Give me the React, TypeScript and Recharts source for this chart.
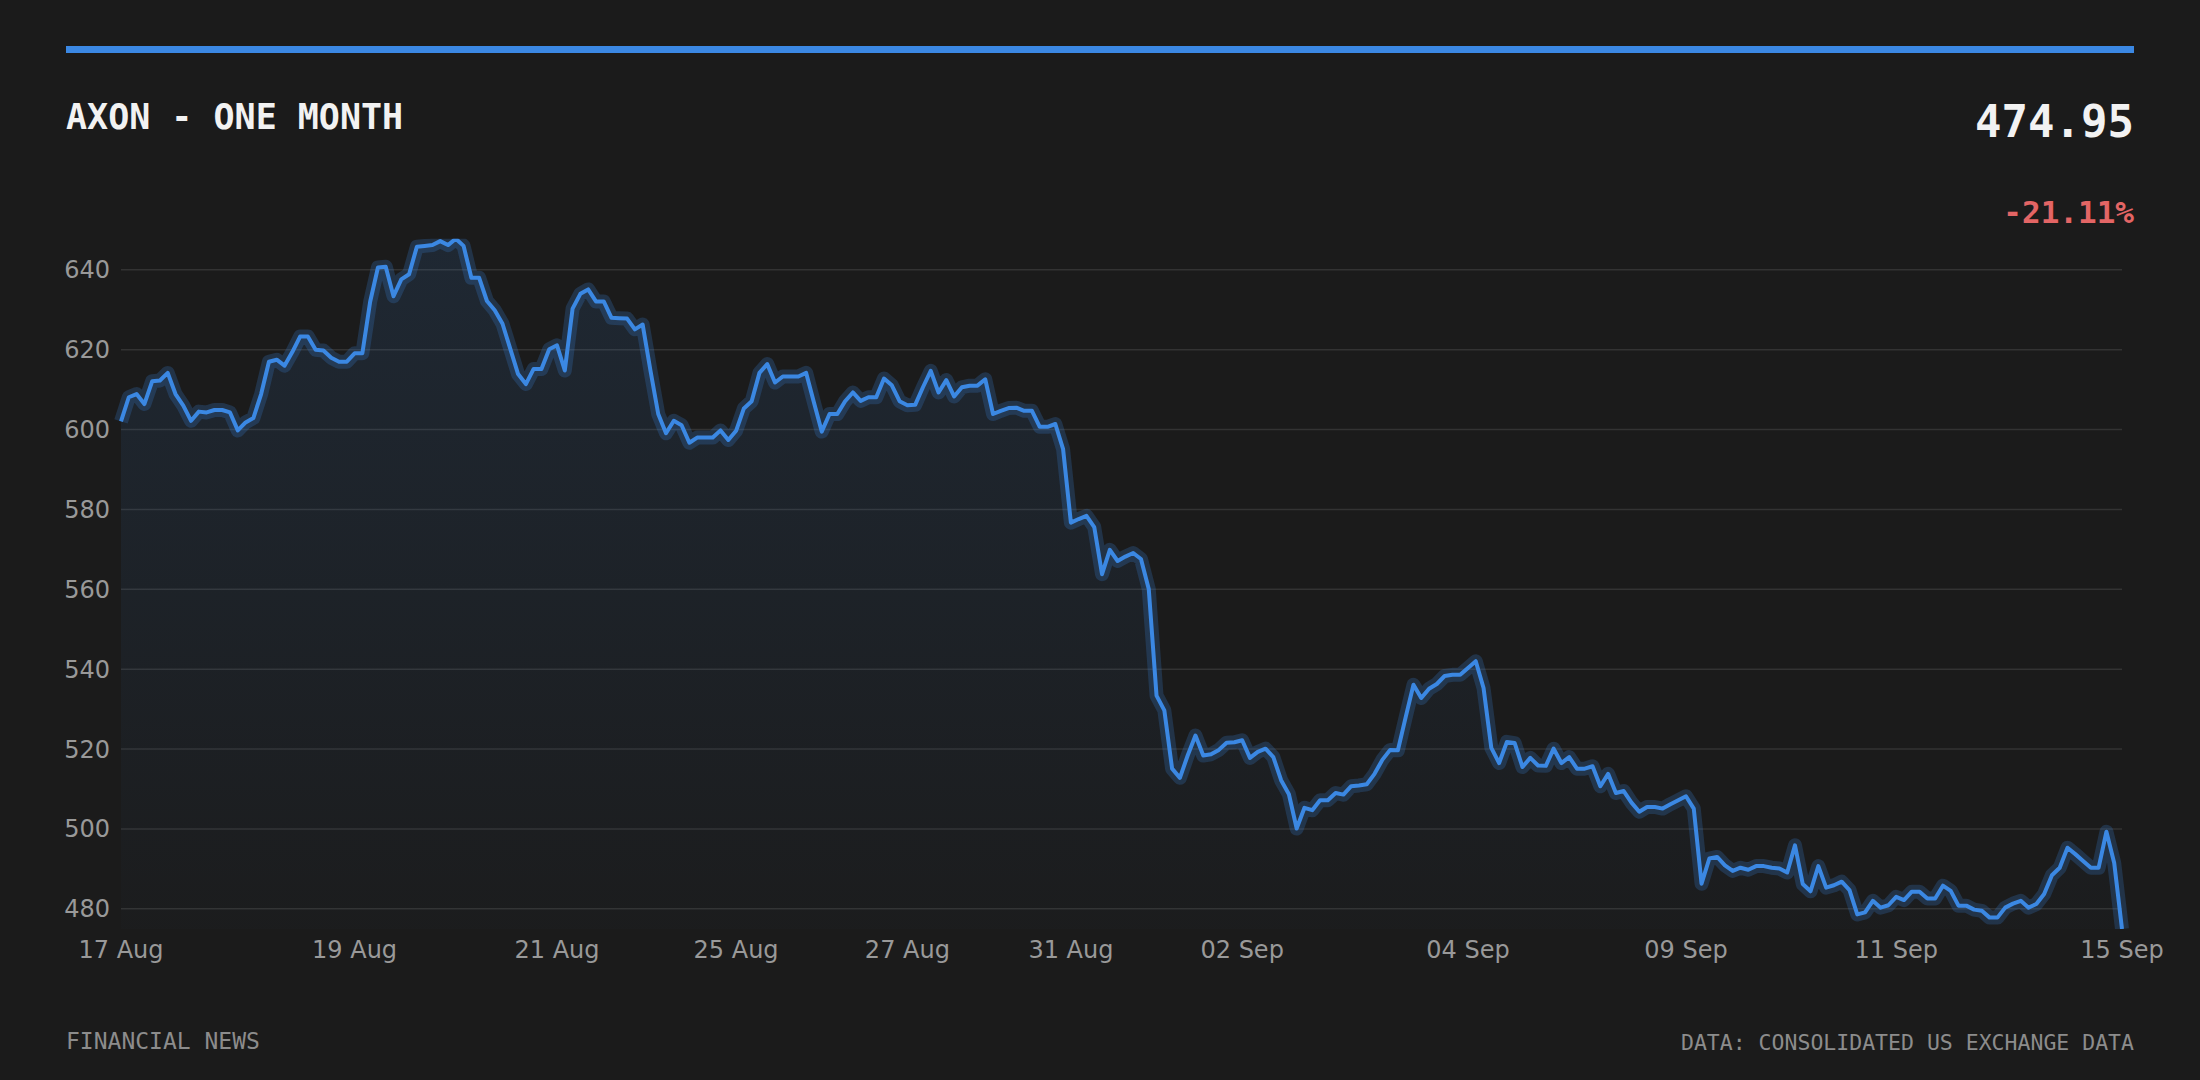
import React from 'react'
import { ComposedChart, Area, Line, XAxis, YAxis, CartesianGrid } from 'recharts'

// hourly closes, left to right
const prices = [
  602.05, 608.1, 608.9, 606.4, 612.1, 612.3, 614.2, 608.9, 606.0, 602.2, 604.5, 604.3, 604.9, 604.9, 604.3,
  599.8, 601.8, 602.9, 608.9, 617.0, 617.5, 616.0, 619.4, 623.3, 623.3, 620.0, 619.8, 618.0, 617.0, 617.0,
  619.1, 619.1, 632.0, 640.6, 640.8, 633.4, 637.6, 638.9, 645.8, 646.0, 646.2, 647.2, 646.2,
  647.8, 646.0, 638.0, 638.0, 632.2, 629.9, 626.5, 620.2, 613.9, 611.4, 615.2, 615.2, 620.1, 621.1, 614.8,
  630.3, 634.0, 635.1, 632.1, 632.1, 628.0, 627.9, 627.8, 625.1, 626.3, 614.8, 603.9, 599.1, 602.2, 601.1,
  596.7, 598.0, 598.0, 598.0, 599.8, 597.4, 599.7, 605.3, 607.1, 614.2, 616.4, 611.8, 613.3,
  613.3, 613.3, 614.2, 606.8, 599.5, 603.9, 603.9, 607.1, 609.3, 607.2, 608.1, 608.1, 612.8, 611.1, 607.1,
  606.1, 606.2, 610.6, 614.7, 609.3, 612.4, 608.3, 610.6, 611.0, 611.0, 612.6, 603.9, 604.7, 605.4, 605.5,
  604.7, 604.7, 600.7, 600.7, 601.4, 595.1, 576.7, 577.6, 578.4, 575.6, 563.8, 569.9, 567.1,
  568.2, 569.1, 567.6, 560.1, 533.4, 529.7, 515.1, 512.8, 518.4, 523.4, 518.4, 518.7, 519.8, 521.6, 521.7,
  522.2, 517.8, 519.3, 520.1, 518.0, 512.2, 508.7, 500.1, 505.3, 504.7, 507.2, 507.2, 509.0, 508.6, 510.7,
  510.9, 511.2, 513.8, 517.3, 519.8, 519.7, 528.0, 536.1, 532.8, 535.1, 536.3, 538.3, 538.6,
  538.6, 540.3, 542.0, 535.3, 520.3, 516.5, 521.8, 521.5, 515.5, 517.8, 515.9, 515.8, 520.1, 516.5, 518.0,
  515.1, 515.1, 515.7, 510.7, 513.8, 509.0, 509.5, 506.6, 504.3, 505.5, 505.5, 505.1, 506.2, 507.2, 508.2,
  505.1, 486.3, 492.6, 493.0, 490.9, 489.5, 490.3, 489.8, 490.7, 490.7, 490.3, 490.1, 489.1,
  495.9, 486.2, 484.4, 490.7, 485.3, 485.9, 486.8, 484.7, 478.6, 479.1, 482.0, 480.3, 480.9, 483.0, 482.2,
  484.3, 484.3, 482.6, 482.6, 485.8, 484.5, 480.8, 480.8, 479.8, 479.5, 477.8, 477.8, 480.3, 481.3, 482.0,
  480.3, 481.2, 483.7, 488.4, 490.3, 495.3, 493.7, 492.0, 490.3, 490.3, 499.3, 491.5, 474.95,
]

const tickIdx = [0, 30, 56, 79, 101, 122, 144, 173, 201, 228, 257]
const tickLabels = ['17 Aug', '19 Aug', '21 Aug', '25 Aug', '27 Aug', '31 Aug', '02 Sep', '04 Sep', '09 Sep', '11 Sep', '15 Sep']
const yTicks = [480, 500, 520, 540, 560, 580, 600, 620, 640]

const BLUE = '#3b88e3'
const BG = '#1b1b1b'
const MONO = '"DejaVu Sans Mono", monospace'
const SANS = '"DejaVu Sans", sans-serif'

const data = prices.map((p, i) => ({ i, p }))

const first = prices[0]
const last = prices[prices.length - 1]
const change = ((last - first) / first) * 100

export default function App() {
  return (
    <div style={{ position: 'absolute', left: 0, top: 0, width: 2200, height: 1080, background: BG, overflow: 'hidden' }}>
      {/* accent bar */}
      <div style={{ position: 'absolute', left: 66, top: 46, width: 2068, height: 7, background: BLUE }} />

      <div style={{ position: 'absolute', left: 66, top: 100, fontFamily: MONO, fontWeight: 'bold', fontSize: 35, lineHeight: 1, color: '#f2f2f2', whiteSpace: 'nowrap' }}>
        AXON - ONE MONTH
      </div>
      <div style={{ position: 'absolute', right: 66, top: 100, fontFamily: MONO, fontWeight: 'bold', fontSize: 44, lineHeight: 1, color: '#f2f2f2', textAlign: 'right' }}>
        {last.toFixed(2)}
      </div>
      <div style={{ position: 'absolute', right: 66, top: 197, fontFamily: MONO, fontWeight: 'bold', fontSize: 31, lineHeight: 1, color: '#e36565', textAlign: 'right' }}>
        {change.toFixed(2)}%
      </div>

      <div style={{ position: 'absolute', left: 0, top: 0 }}>
        <ComposedChart width={2200} height={1080} data={data} margin={{ top: 238.7, right: 78, bottom: 111, left: 61 }}>
          <defs>
            <linearGradient id="fillGrad" x1="0" y1="0" x2="0" y2="1">
              <stop offset="0%" stopColor={BLUE} stopOpacity={0.2} />
              <stop offset="100%" stopColor={BLUE} stopOpacity={0.02} />
            </linearGradient>
          </defs>
          <CartesianGrid vertical={false} horizontalValues={yTicks} stroke="#333333" strokeWidth={1.5} />
          <XAxis
            dataKey="i"
            type="number"
            domain={[0, prices.length - 1]}
            ticks={tickIdx}
            interval={0}
            tickFormatter={(v) => tickLabels[tickIdx.indexOf(v)]}
            axisLine={false}
            tickLine={false}
            tickSize={0}
            tickMargin={12}
            height={40}
            tick={{ fill: '#999999', fontSize: 24, fontFamily: SANS }}
          />
          <YAxis
            domain={['dataMin', 'dataMax']}
            allowDataOverflow
            ticks={yTicks}
            interval={0}
            axisLine={false}
            tickLine={false}
            tickSize={0}
            tickMargin={11}
            width={60}
            tick={{ fill: '#999999', fontSize: 24, fontFamily: SANS }}
          />
          <Area dataKey="p" type="linear" stroke="none" fill="url(#fillGrad)" isAnimationActive={false} />
          <Line dataKey="p" type="linear" stroke={BLUE} strokeOpacity={0.22} strokeWidth={14} strokeLinejoin="round" dot={false} activeDot={false} isAnimationActive={false} />
          <Line dataKey="p" type="linear" stroke={BLUE} strokeWidth={4} strokeLinejoin="round" dot={false} activeDot={false} isAnimationActive={false} />
        </ComposedChart>
      </div>

      <div style={{ position: 'absolute', left: 66, top: 1030, fontFamily: MONO, fontSize: 23, lineHeight: 1, color: '#8c8c8c' }}>
        FINANCIAL NEWS
      </div>
      <div style={{ position: 'absolute', right: 66, top: 1032, fontFamily: MONO, fontSize: 21.5, lineHeight: 1, color: '#8c8c8c', textAlign: 'right' }}>
        DATA: CONSOLIDATED US EXCHANGE DATA
      </div>
    </div>
  )
}
